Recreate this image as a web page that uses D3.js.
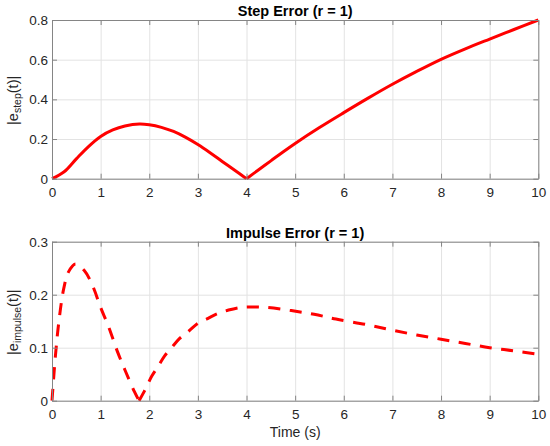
<!DOCTYPE html>
<html>
<head>
<meta charset="utf-8">
<script src="https://cdn.jsdelivr.net/npm/d3@7"></script>
<style>
  html, body { margin: 0; padding: 0; background: #fff; }
  svg { display: block; }
  text { font-family: "Liberation Sans", Arial, Helvetica, sans-serif; }
</style>
</head>
<body>
<svg id="chart" width="550" height="446"></svg>
<script>
// ---------- data ----------
const xTicks = [0, 1, 2, 3, 4, 5, 6, 7, 8, 9, 10];
const stepYTicks = [0, 0.2, 0.4, 0.6, 0.8];
const stepYLabels = ["0", "0.2", "0.4", "0.6", "0.8"];
const impYTicks = [0, 0.1, 0.2, 0.3];
const impYLabels = ["0", "0.1", "0.2", "0.3"];

// step error, split at the cusp t = 4
const stepT1 = [0, 0.25, 0.5, 0.75, 1, 1.25, 1.5, 1.8, 2, 2.25, 2.5, 2.75, 3, 3.25, 3.5, 3.75, 4];
const stepE1 = [0, 0.035, 0.1, 0.162, 0.213, 0.246, 0.266, 0.276, 0.272, 0.259, 0.238, 0.208, 0.172, 0.131, 0.087, 0.044, 0];
const stepT2 = [4, 4.25, 4.5, 4.75, 5, 5.5, 6, 6.5, 7, 7.5, 8, 8.5, 9, 9.5, 10];
const stepE2 = [0, 0.045, 0.09, 0.135, 0.178, 0.258, 0.333, 0.406, 0.476, 0.541, 0.602, 0.655, 0.704, 0.752, 0.8];

// impulse error, split at the cusp t = 1.79
const impT1 = [0, 0.07, 0.14, 0.24, 0.34, 0.48, 0.66, 0.83, 1.0, 1.17, 1.34, 1.5, 1.7, 1.79];
const impE1 = [0, 0.084, 0.148, 0.211, 0.243, 0.258, 0.246, 0.218, 0.176, 0.138, 0.094, 0.058, 0.016, 0];
const impT2 = [1.79, 1.9, 2.05, 2.19, 2.32, 2.46, 2.62, 2.81, 3, 3.2, 3.4, 3.63, 3.88, 4.1, 4.42, 4.92, 5.39, 5.84, 6.5, 7, 7.5, 8, 8.5, 9, 9.5, 10];
const impE2 = [0, 0.018, 0.046, 0.066, 0.085, 0.1, 0.117, 0.131, 0.146, 0.155, 0.164, 0.171, 0.176, 0.177, 0.176, 0.17, 0.163, 0.154, 0.143, 0.133, 0.124, 0.116, 0.108, 0.1, 0.094, 0.0875];

// ---------- layout ----------
const svg = d3.select("#chart");
const left = 52, right = 538.3;
const panels = [
  { top: 20, bottom: 178.7, yMax: 0.8, yTicks: stepYTicks, yLabels: stepYLabels,
    title: "Step Error (r = 1)", sub: "step",
    segs: [[stepT1, stepE1], [stepT2, stepE2]], dash: null },
  { top: 241.7, bottom: 400.7, yMax: 0.3, yTicks: impYTicks, yLabels: impYLabels,
    title: "Impulse Error (r = 1)", sub: "impulse",
    segs: [[impT1, impE1], [impT2, impE2]], dash: "12,9.5" }
];

const x = d3.scaleLinear().domain([0, 10]).range([left, right]);
const axisColor = "#858585";
const textColor = "#262626";

panels.forEach((p, i) => {
  const y = d3.scaleLinear().domain([0, p.yMax]).range([p.bottom, p.top]);
  const w = right - left, h = p.bottom - p.top;
  const g = svg.append("g");

  // grid
  g.append("g").attr("transform", `translate(0,${p.bottom})`)
    .call(d3.axisBottom(x).tickValues(xTicks).tickSize(-h).tickFormat(""))
    .call(s => s.select(".domain").remove())
    .call(s => s.selectAll("line").attr("stroke", "#e3e3e3"));
  g.append("g").attr("transform", `translate(${left},0)`)
    .call(d3.axisLeft(y).tickValues(p.yTicks).tickSize(-w).tickFormat(""))
    .call(s => s.select(".domain").remove())
    .call(s => s.selectAll("line").attr("stroke", "#e3e3e3"));

  // data lines
  const line = d3.line().x(d => x(d[0])).y(d => y(d[1])).curve(d3.curveCatmullRom.alpha(0.5));
  p.segs.forEach(([ts, es]) => {
    const pts = ts.map((t, k) => [t, es[k]]);
    const path = g.append("path").datum(pts)
      .attr("d", line)
      .attr("fill", "none")
      .attr("stroke", "#ff0000")
      .attr("stroke-width", 3)
      .attr("stroke-linejoin", "round");
    if (p.dash) path.attr("stroke-dasharray", p.dash);
  });

  // axes with inward ticks
  const styleAxis = s => {
    s.select(".domain").attr("stroke", axisColor);
    s.selectAll(".tick line").attr("stroke", axisColor);
    s.selectAll("text").attr("fill", textColor).style("font-size", "13.5px")
      .style("font-family", '"Liberation Sans", Arial, sans-serif');
  };
  g.append("g").attr("transform", `translate(0,${p.bottom})`)
    .call(d3.axisBottom(x).tickValues(xTicks).tickSizeInner(-5).tickSizeOuter(0).tickPadding(9).tickFormat(d3.format("d")))
    .call(styleAxis);
  g.append("g").attr("transform", `translate(0,${p.top})`)
    .call(d3.axisTop(x).tickValues(xTicks).tickSizeInner(-5).tickSizeOuter(0).tickFormat(""))
    .call(styleAxis);
  g.append("g").attr("transform", `translate(${left},0)`)
    .call(d3.axisLeft(y).tickValues(p.yTicks).tickSizeInner(-5).tickSizeOuter(0).tickPadding(4)
      .tickFormat((d, k) => p.yLabels[k]))
    .call(styleAxis);
  g.append("g").attr("transform", `translate(${right},0)`)
    .call(d3.axisRight(y).tickValues(p.yTicks).tickSizeInner(-5).tickSizeOuter(0).tickFormat(""))
    .call(styleAxis);

  // title
  g.append("text")
    .attr("x", (left + right) / 2).attr("y", p.top - 4)
    .attr("text-anchor", "middle")
    .attr("font-weight", "bold").attr("font-size", "14.5px").attr("fill", "#000")
    .text(p.title);

  // y label with subscript
  const yl = g.append("text")
    .attr("transform", `translate(17.5,${(p.top + p.bottom) / 2 + 1}) rotate(-90)`)
    .attr("text-anchor", "middle")
    .attr("font-size", "14.5px").attr("fill", textColor);
  yl.append("tspan").text("|e");
  yl.append("tspan").attr("font-size", "10.5px").attr("dy", 3.5).text(p.sub);
  yl.append("tspan").attr("dy", -3.5).text("(t)|");
});

// x label
svg.append("text")
  .attr("x", (left + right) / 2).attr("y", 436.5)
  .attr("text-anchor", "middle")
  .attr("font-size", "14px").attr("fill", textColor)
  .text("Time (s)");
</script>
</body>
</html>
